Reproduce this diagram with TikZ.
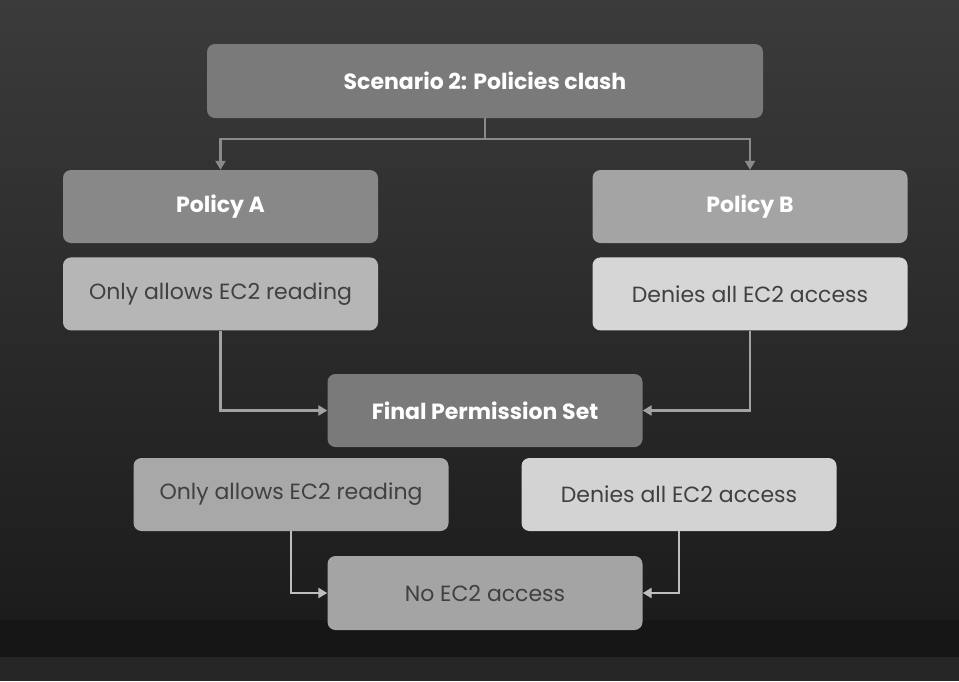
\documentclass[tikz,border=0pt]{standalone}
\usepackage{fontspec}
\setmainfont{Poppins}
\usetikzlibrary{arrows.meta,positioning}
\definecolor{bgtop}{HTML}{3B3B3B}
\definecolor{bgbot}{HTML}{1C1C1C}
\definecolor{bandgray}{HTML}{161616}
\definecolor{footgray}{HTML}{262626}
\definecolor{darkfill}{HTML}{7A7A7A}
\definecolor{midfill}{HTML}{888888}
\definecolor{softfill}{HTML}{A4A4A4}
\definecolor{lightfill}{HTML}{B6B6B6}
\definecolor{palefill}{HTML}{D6D6D6}
\definecolor{txtgray}{HTML}{404040}
\definecolor{linkgray}{HTML}{A2A2A2}
\definecolor{toplink}{HTML}{8A8A8A}
\tikzset{
  box/.style={rectangle, rounded corners=8pt, minimum width=315pt,
    minimum height=73pt, inner sep=0pt},
  head/.style={box, text=white, font=\bfseries\fontsize{22}{26}\selectfont},
  body/.style={box, text=txtgray, font=\fontsize{22}{26}\selectfont},
  link/.style={draw=linkgray, line width=2.5pt,
    -{Triangle[length=9pt,width=10pt]}},
}
\begin{document}
\begin{tikzpicture}[x=1pt,y=-1pt]
  \useasboundingbox (0,0) rectangle (959,681);
  % background
  \shade[top color=bgtop, bottom color=bgbot] (0,0) rectangle (959,620);
  \fill[bandgray] (0,620) rectangle (959,657);
  \fill[footgray] (0,657) rectangle (959,681);

  % boxes
  \node[head, fill=darkfill, minimum width=556pt, minimum height=74pt] (scen) at (485,81) {Scenario 2: Policies clash};
  \node[head, fill=midfill] (polA) at (220.5,206.5) {Policy A};
  \node[head, fill=softfill] (polB) at (750,206.5) {Policy B};
  \node[body, fill=lightfill, below=14pt of polA] (allowA) {Only allows EC2 reading};
  \node[body, fill=palefill, below=14pt of polB] (denyB) {Denies all EC2 access};
  \node[head, fill=darkfill] (final) at (485,410.5) {Final Permission Set};
  \node[body, fill=softfill!80!lightfill] (allowF) at (291,494.5) {Only allows EC2 reading};
  \node[body, fill=palefill!90!lightfill] (denyF) at (679,494.5) {Denies all EC2 access};
  \node[body, fill=softfill, minimum height=74pt] (result) at (485,593) {No EC2 access};

  % connectors
  \draw[link, draw=toplink] (scen.south) -- ++(0,21) -| (polA.north);
  \draw[link, draw=toplink] (scen.south) -- ++(0,21) -| (polB.north);
  \draw[link] (allowA.south) |- (final.west);
  \draw[link] (denyB.south) |- (final.east);
  \draw[link, draw=linkgray!70!white] (allowF.south) |- (result.west);
  \draw[link, draw=linkgray!70!white] (denyF.south) |- (result.east);
\end{tikzpicture}
\end{document}
